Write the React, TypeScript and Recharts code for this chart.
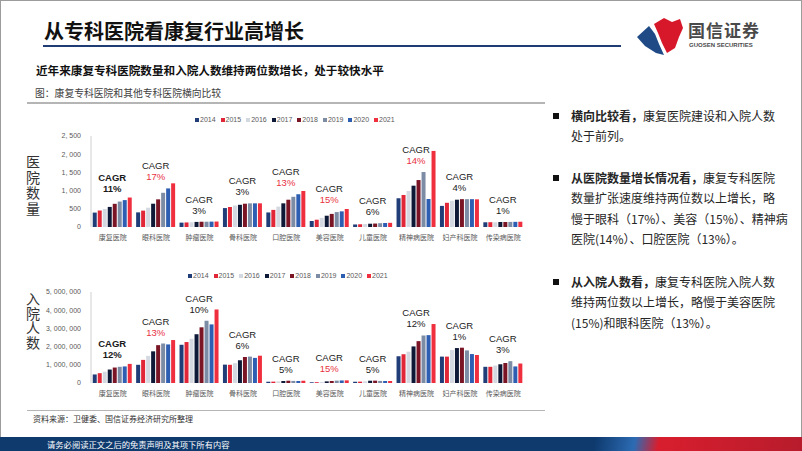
import React from 'react';
import { BarChart, Bar, XAxis, YAxis, Legend, LabelList } from 'recharts';

// ---------- data ----------
const categories = ['康复医院', '眼科医院', '肿瘤医院', '骨科医院', '口腔医院', '美容医院', '儿童医院', '精神病医院', '妇产科医院', '传染病医院'];
const years = ['2014', '2015', '2016', '2017', '2018', '2019', '2020', '2021'];

// number of hospitals, one array per year (across categories)
const hosp2014 = [396, 402, 120, 520, 400, 165, 70, 790, 580, 130];
const hosp2015 = [453, 450, 125, 550, 470, 200, 75, 880, 665, 132];
const hosp2016 = [495, 530, 130, 590, 560, 250, 80, 990, 720, 130];
const hosp2017 = [552, 640, 140, 610, 650, 310, 90, 1135, 750, 138];
const hosp2018 = [637, 760, 145, 640, 750, 360, 95, 1290, 765, 138];
const hosp2019 = [699, 940, 145, 650, 830, 410, 105, 1510, 765, 140];
const hosp2020 = [739, 1060, 148, 650, 900, 430, 110, 770, 765, 142];
const hosp2021 = [810, 1200, 150, 650, 990, 495, 115, 2090, 760, 145];
const hospCagr = ['11%', '17%', '3%', '3%', '13%', '15%', '6%', '14%', '4%', '1%'];
const hospMark = ['bold', 'red', '', '', 'red', 'red', '', 'red', '', ''];
const hospTicks = [0, 500, 1000, 1500, 2000, 2500];

// inpatients, one array per year (across categories)
const inp2014 = [470000, 1000000, 2100000, 1010000, 70000, 40000, 70000, 1470000, 1450000, 890000];
const inp2015 = [540000, 1270000, 2250000, 1000000, 75000, 45000, 75000, 1580000, 1450000, 890000];
const inp2016 = [620000, 1490000, 2430000, 1090000, 90000, 55000, 90000, 1720000, 1810000, 960000];
const inp2017 = [740000, 1740000, 2680000, 1250000, 110000, 90000, 125000, 2010000, 1920000, 1030000];
const inp2018 = [850000, 2080000, 3060000, 1430000, 125000, 110000, 130000, 2300000, 1940000, 1100000];
const inp2019 = [890000, 2170000, 3420000, 1450000, 115000, 130000, 115000, 2610000, 1790000, 1200000];
const inp2020 = [910000, 2120000, 3220000, 1380000, 110000, 140000, 110000, 2630000, 1590000, 910000];
const inp2021 = [1050000, 2360000, 4040000, 1500000, 125000, 145000, 110000, 3240000, 1540000, 1070000];
const inpCagr = ['12%', '13%', '10%', '6%', '5%', '15%', '5%', '12%', '1%', '3%'];
const inpMark = ['bold', 'red', '', '', '', 'red', '', '', '', ''];
const inpTicks = [0, 1000000, 2000000, 3000000, 4000000, 5000000];

const COLORS = ['#203D78', '#E12637', '#D4D8E0', '#0D1936', '#7A1526', '#7D8CA5', '#2D5EB2', '#EF2E3E'];

function buildRows(series: number[][], cagr: string[], mark: string[]) {
  return categories.map((name, i) => {
    const row: any = { name, cagr: cagr[i], mark: mark[i] };
    years.forEach((y, k) => {
      row['y' + y] = series[k][i];
    });
    return row;
  });
}

const hospRows = buildRows([hosp2014, hosp2015, hosp2016, hosp2017, hosp2018, hosp2019, hosp2020, hosp2021], hospCagr, hospMark);
const inpRows = buildRows([inp2014, inp2015, inp2016, inp2017, inp2018, inp2019, inp2020, inp2021], inpCagr, inpMark);

const NUM_FONT = '"Liberation Sans", Arial, sans-serif';
const CJK_FONT = '"Noto Sans CJK SC", "Noto Sans", sans-serif';

const fmt = (v: number) => v.toLocaleString('en-US').replace(/,/g, ',\u00A0');

function makeCagrLabel(rows: any[]) {
  return (p: any) => {
    const { x, y, width, height, index } = p;
    const row = rows[index];
    if (!row || !height) return null;
    const ppu = Number(height) / row.y2017;
    const base = Number(y) + Number(height);
    const peak = Math.max(...years.slice(0, 7).map((yr) => row['y' + yr]));
    const top = base - peak * ppu;
    const cx = Number(x) + Number(width) + 0.5;
    const bold = row.mark === 'bold';
    const red = row.mark === 'red';
    return (
      <g>
        <text x={cx} y={top - 19} textAnchor="middle" fontSize={9.5} fontWeight={bold ? 700 : 400} fill="#1a1a1a" fontFamily={NUM_FONT}>
          CAGR
        </text>
        <text x={cx} y={top - 8} textAnchor="middle" fontSize={9.5} fontWeight={bold ? 700 : 400} fill={red ? '#E8323F' : '#1a1a1a'} fontFamily={NUM_FONT}>
          {row.cagr}
        </text>
      </g>
    );
  };
}

const legendContent = (props: any) => {
  const payload = props.payload || [];
  return (
    <div style={{ display: 'flex', fontSize: 7, color: '#595959', fontFamily: NUM_FONT, lineHeight: '8px' }}>
      {payload.map((e: any) => (
        <span key={e.value} style={{ display: 'flex', alignItems: 'center', marginRight: 5 }}>
          <span style={{ display: 'inline-block', width: 4, height: 4, background: e.color, marginRight: 1 }} />
          {e.value}
        </span>
      ))}
    </div>
  );
};

function GroupChart({ rows, ticks, domainMax, legendLeft }: any) {
  return (
    <BarChart
      width={515}
      height={140}
      data={rows}
      margin={{ top: 26, right: 10, bottom: 5, left: 0 }}
      barCategoryGap="4%"
      barGap={1}
    >
      <Legend
        layout="horizontal"
        verticalAlign="middle"
        align="center"
        content={legendContent}
        wrapperStyle={{ left: legendLeft, top: 6, width: 230 }}
      />
      <XAxis
        dataKey="name"
        interval={0}
        tickLine={false}
        axisLine={false}
        tickSize={6}
        tickMargin={2}
        height={18}
        tick={{ fontSize: 7, fill: '#595959', fontFamily: CJK_FONT }}
      />
      <YAxis
        width={71}
        domain={[0, domainMax]}
        ticks={ticks}
        tickFormatter={fmt}
        tickLine={false}
        tickSize={6}
        tickMargin={4}
        axisLine={{ stroke: '#D0D0D0' }}
        tick={{ fontSize: 7, fill: '#595959', fontFamily: NUM_FONT }}
        allowDataOverflow
      />
      {years.map((yr, k) => (
        <Bar key={yr} dataKey={'y' + yr} name={yr} fill={COLORS[k]} isAnimationActive={false}>
          {yr === '2017' ? <LabelList dataKey="cagr" content={makeCagrLabel(rows)} /> : null}
        </Bar>
      ))}
    </BarChart>
  );
}

const textLine: React.CSSProperties = { height: 20.3, lineHeight: '20.3px', whiteSpace: 'nowrap' };

function Para({ top, lines }: { top: number; lines: React.ReactNode[] }) {
  return (
    <div style={{ position: 'absolute', left: 553, top, width: 240, fontSize: 12, color: '#262626', fontFamily: CJK_FONT }}>
      <div style={{ position: 'absolute', left: 0, top: 7, width: 6, height: 6, background: '#111' }} />
      <div style={{ marginLeft: 18 }}>
        {lines.map((l, i) => (
          <div key={i} style={textLine}>
            {l}
          </div>
        ))}
      </div>
    </div>
  );
}

export default function App() {
  return (
    <div style={{ position: 'absolute', left: 0, top: 0, width: 802, height: 451, background: '#fff', overflow: 'hidden', fontFamily: CJK_FONT }}>
      {/* slide frame */}
      <div style={{ position: 'absolute', left: 0, top: 0, width: 800, height: 440, border: '1px solid #9C9C9C', borderBottom: 'none' }} />

      {/* header */}
      <div style={{ position: 'absolute', left: 44, top: 17, fontSize: 20, fontWeight: 700, color: '#111', whiteSpace: 'nowrap', lineHeight: '28px' }}>
        从专科医院看康复行业高增长
      </div>
      <div style={{ position: 'absolute', left: 43, top: 45, width: 578, height: 2, background: '#1F3C74' }} />

      {/* logo */}
      <svg style={{ position: 'absolute', left: 634, top: 15 }} width={52} height={42} viewBox="0 0 52 42">
        <polygon points="20,9 30,3 38,7 46,4 49,13 45,22 41,33 33,38 28,28 24,18" fill="#D7182A" />
        <polygon points="3,22 15,11 21,19 25,29 30,40 22,38 11,31" fill="#1F4A86" />
      </svg>
      <div style={{ position: 'absolute', left: 688, top: 19, fontSize: 17, fontWeight: 700, color: '#4A4A4A', letterSpacing: 1, lineHeight: '22px', whiteSpace: 'nowrap' }}>
        国信证券
      </div>
      <div style={{ position: 'absolute', left: 689, top: 42, fontSize: 6, fontWeight: 700, color: '#4A4A4A', fontFamily: NUM_FONT, whiteSpace: 'nowrap', lineHeight: '7px' }}>
        GUOSEN SECURITIES
      </div>

      {/* subtitle + caption */}
      <div style={{ position: 'absolute', left: 36, top: 61, fontSize: 11.6, fontWeight: 700, color: '#111', whiteSpace: 'nowrap', lineHeight: '18px' }}>
        近年来康复专科医院数量和入院人数维持两位数增长，处于较快水平
      </div>
      <div style={{ position: 'absolute', left: 35, top: 86, fontSize: 9.8, color: '#404040', whiteSpace: 'nowrap', lineHeight: '14px' }}>
        图：康复专科医院和其他专科医院横向比较
      </div>
      <div style={{ position: 'absolute', left: 27, top: 102, width: 518, height: 1.5, background: '#B5B5B5' }} />

      {/* y-axis titles */}
      <div style={{ position: 'absolute', left: 26, top: 154, width: 15, fontSize: 14, lineHeight: '15.5px', color: '#333', wordBreak: 'break-all' }}>
        医院数量
      </div>
      <div style={{ position: 'absolute', left: 26, top: 291, width: 15, fontSize: 14, lineHeight: '14.5px', color: '#333', wordBreak: 'break-all' }}>
        入院人数
      </div>

      {/* charts */}
      <div style={{ position: 'absolute', left: 20, top: 110 }}>
        <GroupChart rows={hospRows} ticks={hospTicks} domainMax={2500} legendLeft={175} />
      </div>
      <div style={{ position: 'absolute', left: 20, top: 266 }}>
        <GroupChart rows={inpRows} ticks={inpTicks} domainMax={5000000} legendLeft={168} />
      </div>

      {/* right panel */}
      <Para
        top={106}
        lines={[
          <span><b>横向比较看，</b>康复医院建设和入院人数</span>,
          <span>处于前列。</span>,
        ]}
      />
      <Para
        top={168}
        lines={[
          <span><b>从医院数量增长情况看，</b>康复专科医院</span>,
          <span>数量扩张速度维持两位数以上增长，略</span>,
          <span>慢于眼科（17%）、美容（15%）、精神病</span>,
          <span>医院(14%）、口腔医院（13%）。</span>,
        ]}
      />
      <Para
        top={272}
        lines={[
          <span><b>从入院人数看，</b>康复专科医院入院人数</span>,
          <span>维持两位数以上增长，略慢于美容医院</span>,
          <span>(15%)和眼科医院（13%）。</span>,
        ]}
      />

      {/* source */}
      <div style={{ position: 'absolute', left: 27, top: 410, width: 518, height: 1, background: '#B5B5B5' }} />
      <div style={{ position: 'absolute', left: 33, top: 413, fontSize: 8, color: '#333', whiteSpace: 'nowrap', lineHeight: '12px' }}>
        资料来源：卫健委、国信证券经济研究所整理
      </div>

      {/* footer */}
      <div
        style={{
          position: 'absolute',
          left: 0,
          top: 437,
          width: 802,
          height: 14,
          background: 'linear-gradient(100deg, #0E3A6E 0%, #0E3A6E 74%, #2C6BB3 79%, #D81E2E 82%, #B71C2C 100%)',
        }}
      />
      <div style={{ position: 'absolute', left: 47, top: 438, fontSize: 8.3, color: '#fff', whiteSpace: 'nowrap', lineHeight: '12px' }}>
        请务必阅读正文之后的免责声明及其项下所有内容
      </div>
    </div>
  );
}
